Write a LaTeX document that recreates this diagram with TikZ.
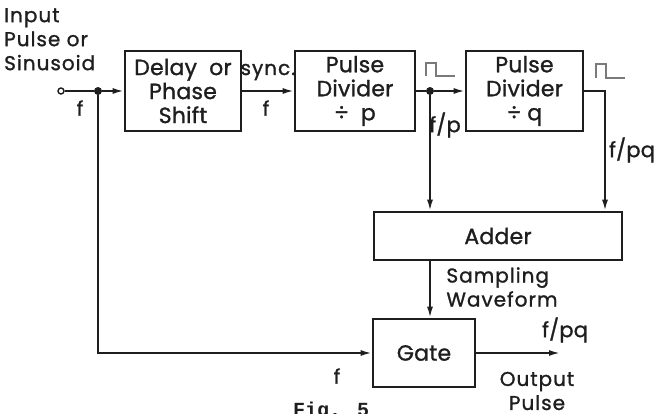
\documentclass[tikz,border=0pt]{standalone}
\usepackage{fontspec}
\usepackage{tikz}
\usetikzlibrary{arrows.meta,positioning,calc}
\newfontfamily\lblfont{Poppins}[LetterSpace=5,FakeBold=1.2]
\newfontfamily\blkfont{Poppins}[LetterSpace=1,FakeBold=1.2]
\newfontfamily\capfont{Liberation Mono}[BoldFont={Liberation Mono Bold}]
\definecolor{inkblack}{HTML}{1E1E1E}
\definecolor{inkgray}{HTML}{7A7A7A}
\tikzset{
  blk/.style={draw=inkblack,line width=2.6pt,inner sep=0pt,align=center,
              font=\blkfont\fontsize{22}{24}\selectfont,text=inkblack},
  lbl/.style={inner sep=0pt,font=\lblfont\fontsize{20}{24}\selectfont,text=inkblack},
  frac/.style={inner sep=0pt,font=\blkfont\fontsize{21}{24}\selectfont,text=inkblack},
  sig/.style={draw=inkblack,line width=1.8pt},
  sigarr/.style={sig,-{Latex[length=11pt,width=6pt]}},
  jdot/.style={circle,fill=inkblack,inner sep=0pt,minimum size=8pt},
  pulse/.style={draw=inkgray,line width=1.6pt}
}
\begin{document}
\begin{tikzpicture}[x=1pt,y=-1pt]
  \useasboundingbox (0,0) rectangle (672,414);
  \clip (0,0) rectangle (672,414);

  % blocks
  \node[blk,minimum width=116pt,minimum height=80pt] (delay) at (183,91)
       {Delay\ \ or\\Phase\\Shift};
  \node[blk,minimum width=120pt,minimum height=80pt] (divp) at (355,91)
       {Pulse\\Divider\\÷\ \ p};
  \node[blk,minimum width=117pt,minimum height=80pt] (divq) at (524.5,91)
       {Pulse\\Divider\\÷\ q};
  \node[blk,minimum width=248pt,minimum height=48pt] (adder) at (498,236) {Adder};
  \node[blk,minimum width=102pt,minimum height=68pt] (gate) at (424,353) {Gate};

  % points on the lines
  \node[circle,draw=inkblack,line width=1.4pt,fill=white,inner sep=0pt,
        minimum size=6pt] (in) at (61,91) {};
  \node[jdot] (jin) at (98,91) {};
  \node[jdot] (jp) at (430,91) {};
  \coordinate (qout) at (605,91);
  \coordinate (out) at (560,353);

  % connectors
  \draw[sig] (in) -- (jin);
  \draw[sigarr] (jin) -- (delay.west);
  \draw[sigarr] (delay.east) -- (divp.west);
  \draw[sig] (divp.east) -- (jp);
  \draw[sigarr] (jp) -- (divq.west);
  \draw[sigarr] (divq.east) -- (qout) -- (qout |- adder.north);
  \draw[sigarr] (jp) -- (jp |- adder.north);
  \draw[sigarr] (jp |- adder.south) -- (jp |- gate.north);
  \draw[sigarr] (jin) |- (gate.west);
  \draw[sigarr] (gate.east) -- (out);

  % pulse marks
  \draw[pulse] (426,76) -- (426,63) -- (436,63) -- (436,76) -- (455,76);
  \draw[pulse] (596,78) -- (596,64) -- (606,64) -- (606,78) -- (625,78);

  % labels
  \node[lbl,align=left,anchor=north west] (inlbl) at (4,8)
       {Input\\Pulse or\\Sinusoid};
  \node[lbl] (fin) at (80,108) {f};
  \node[lbl] (sync) at (268,72) {sync.};
  \node[lbl] (fsync) at (266,108) {f};
  \node[frac] (fp) at (445,125) {f/p};
  \node[frac] (fpq) at (632,150) {f/pq};
  \node[lbl,align=left] (samp) at (502,287) {Sampling\\Waveform};
  \node[frac] (fout) at (565,330) {f/pq};
  \node[lbl,align=center] (outlbl) at (537,391) {Output\\Pulse};
  \node[lbl] (fgate) at (337,376) {f};
  \node[inner sep=0pt,anchor=north west,font=\capfont\bfseries\fontsize{20}{22}\selectfont,
        text=inkblack] (cap) at (293,402) {Fig. 5};
\end{tikzpicture}
\end{document}
